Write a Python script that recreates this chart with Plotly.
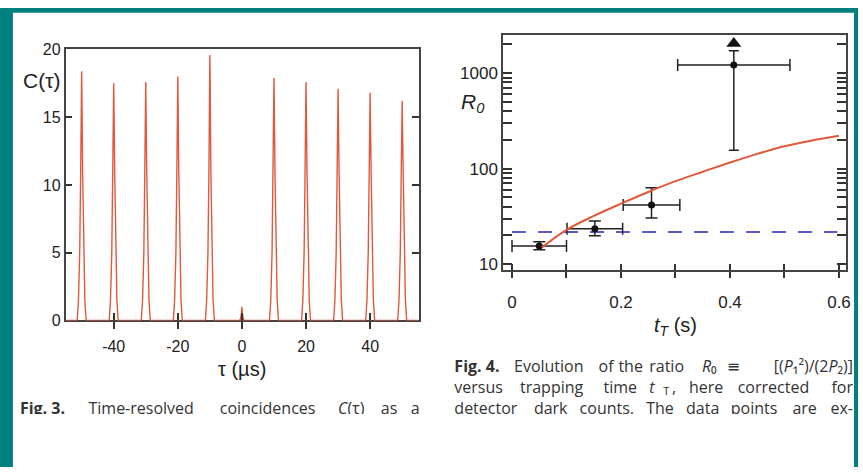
import plotly.graph_objects as go

# ---------------- data: Fig. 3 (coincidences) ----------------
tau = [
    -55.0,
    -51.4, -51.0, -50.6, -50.3, -50.1, -50.0, -49.9, -49.7, -49.4, -49.0, -48.6,
    -41.4, -41.0, -40.6, -40.3, -40.1, -40.0, -39.9, -39.7, -39.4, -39.0, -38.6,
    -31.4, -31.0, -30.6, -30.3, -30.1, -30.0, -29.9, -29.7, -29.4, -29.0, -28.6,
    -21.4, -21.0, -20.6, -20.3, -20.1, -20.0, -19.9, -19.7, -19.4, -19.0, -18.6,
    -11.4, -11.0, -10.6, -10.3, -10.1, -10.0, -9.9, -9.7, -9.4, -9.0, -8.6,
    -0.6, -0.2, 0.0, 0.2, 0.6,
    8.6, 9.0, 9.4, 9.7, 9.9, 10.0, 10.1, 10.3, 10.6, 11.0, 11.4,
    18.6, 19.0, 19.4, 19.7, 19.9, 20.0, 20.1, 20.3, 20.6, 21.0, 21.4,
    28.6, 29.0, 29.4, 29.7, 29.9, 30.0, 30.1, 30.3, 30.6, 31.0, 31.4,
    38.6, 39.0, 39.4, 39.7, 39.9, 40.0, 40.1, 40.3, 40.6, 41.0, 41.4,
    48.6, 49.0, 49.4, 49.7, 49.9, 50.0, 50.1, 50.3, 50.6, 51.0, 51.4,
    55.0,
]
C = [
    0.0,
    0, 1.5, 5, 11, 16.4, 18.4, 16.4, 11, 5, 1.5, 0,
    0, 1.5, 5, 11, 15.5, 17.5, 15.5, 11, 5, 1.5, 0,
    0, 1.5, 5, 11, 15.6, 17.6, 15.6, 11, 5, 1.5, 0,
    0, 1.5, 5, 11, 16.0, 18.0, 16.0, 11, 5, 1.5, 0,
    0, 1.5, 5, 11, 17.6, 19.6, 17.6, 11, 5, 1.5, 0,
    0, 0.4, 1.0, 0.4, 0,
    0, 1.5, 5, 11, 15.9, 17.9, 15.9, 11, 5, 1.5, 0,
    0, 1.5, 5, 11, 15.6, 17.6, 15.6, 11, 5, 1.5, 0,
    0, 1.5, 5, 11, 15.1, 17.1, 15.1, 11, 5, 1.5, 0,
    0, 1.5, 5, 11, 14.8, 16.8, 14.8, 11, 5, 1.5, 0,
    0, 1.5, 5, 11, 14.2, 16.2, 14.2, 11, 5, 1.5, 0,
    0.0,
]
tau_ticks = [-40, -20, 0, 20, 40]
tau_ticktext = ["-40", "-20", "0", "20", "40"]
c_ticks = [0, 5, 10, 15, 20]

# ---------------- data: Fig. 4 (ratio R0) ----------------
t_pts = [0.050, 0.152, 0.256]
r_pts = [15.5, 23.5, 41.7]
t_err = [0.050, 0.051, 0.052]
r_err_plus = [1.7, 4.8, 21.3]
r_err_minus = [1.3, 3.6, 11.2]

t_lim = [0.407]          # lower-limit point
r_lim = [1216]
t_lim_err = [0.103]
r_lim_plus = [500]
r_lim_minus = [1060]
r_arrow = [2050]

t_fit = [0.055, 0.10, 0.15, 0.20, 0.25, 0.30, 0.35, 0.40, 0.45, 0.50, 0.55, 0.60]
r_fit = [15.0, 22.9, 32, 43, 57, 74, 93, 116, 143, 172, 197, 221]

t_dash = [0.0, 0.597]
r_dash = [21.7, 21.7]

t_ticks = [0, 0.1, 0.2, 0.3, 0.4, 0.5, 0.6]
t_ticktext = ["0", "", "0.2", "", "0.4", "", "0.6"]
r_ticks = [10, 20, 30, 40, 50, 60, 70, 80, 90,
           100, 200, 300, 400, 500, 600, 700, 800, 900, 1000, 2000]
r_ticktext = ["10", "", "", "", "", "", "", "", "",
              "100", "", "", "", "", "", "", "", "", "1000", ""]

# ---------------- figure ----------------
W, H = 863, 476
TEAL = "#007f7f"
AX = "#444444"
TXT = "#222222"
RED = "#e2583a"
FONT = "Liberation Sans, Arial, sans-serif"
CAP_FONT = "Open Sans, Noto Sans, DejaVu Sans, sans-serif"
CLIP = 421


def fx(p):
    return p / W


def fy(p):
    return 1 - p / H


fig = go.Figure()

# Fig. 3 trace
fig.add_trace(go.Scatter(x=tau, y=C, mode="lines", xaxis="x", yaxis="y",
                         line=dict(color=RED, width=1.4), cliponaxis=False))

# Fig. 4 traces
fig.add_trace(go.Scatter(x=t_dash, y=r_dash, mode="lines", xaxis="x2", yaxis="y2",
                         line=dict(color="#5a5ad0", width=2, dash="14px,12px")))
fig.add_trace(go.Scatter(x=t_pts, y=r_pts, mode="markers", xaxis="x2", yaxis="y2",
                         marker=dict(color="#111111", size=7),
                         error_x=dict(type="data", array=t_err, color="#222222",
                                      thickness=1.5, width=6),
                         error_y=dict(type="data", symmetric=False, array=r_err_plus,
                                      arrayminus=r_err_minus, color="#222222",
                                      thickness=1.5, width=6)))
fig.add_trace(go.Scatter(x=t_lim, y=r_lim, mode="markers", xaxis="x2", yaxis="y2",
                         marker=dict(color="#111111", size=7),
                         error_x=dict(type="data", array=t_lim_err, color="#222222",
                                      thickness=1.5, width=6),
                         error_y=dict(type="data", symmetric=False, array=r_lim_plus,
                                      arrayminus=r_lim_minus, color="#222222",
                                      thickness=1.5, width=5)))
fig.add_trace(go.Scatter(x=t_lim, y=r_arrow, mode="markers", xaxis="x2", yaxis="y2",
                         marker=dict(color="#111111", size=13, symbol="triangle-up")))
fig.add_trace(go.Scatter(x=t_fit, y=r_fit, mode="lines", xaxis="x2", yaxis="y2",
                         line=dict(color=RED, width=2, shape="spline")))

# invisible traces to anchor the overlay tick axes
fig.add_trace(go.Scatter(x=[tau[0]], y=[0], mode="markers", xaxis="x4", yaxis="y",
                         marker=dict(opacity=0), hoverinfo="skip"))
fig.add_trace(go.Scatter(x=[t_ticks[0]], y=[r_ticks[0]], mode="markers", xaxis="x5", yaxis="y2",
                         marker=dict(opacity=0), hoverinfo="skip"))

# captions (text traces in a page-sized axis so the last line is clipped)
L1, L2, L3 = 373, 395, 417
S, s = 16, 11
cap_words = [
    ("<b>Fig. 3.</b>", 20, L3, "middle right", S),
    ("Time-resolved", 89, L3, "middle right", S),
    ("coincidences", 221, L3, "middle right", S),
    ("<i>C</i>(τ)", 340, L3, "middle right", S),
    ("as", 383, L3, "middle right", S),
    ("a", 422, L3, "middle left", S),
    ("<b>Fig. 4.</b>", 457, L1, "middle right", S),
    ("Evolution", 517, L1, "middle right", S),
    ("of", 602, L1, "middle right", S),
    ("the", 622, L1, "middle right", S),
    ("ratio", 653, L1, "middle right", S),
    ("<i>R</i>₀", 706, L1, "middle right", S),
    ("≡", 731, L1, "middle right", S),
    ("[(<i>P</i>₁²)/(2<i>P</i>₂)]", 858, L1, "middle left", S),
    ("versus", 457, L2, "middle right", S),
    ("trapping", 523, L2, "middle right", S),
    ("time", 607, L2, "middle right", S),
    ("<i>t</i>", 653, L2, "middle right", S),
    ("T", 667, L2 + 3, "middle right", s),
    (",", 676, L2, "middle right", S),
    ("here", 693, L2, "middle right", S),
    ("corrected", 742, L2, "middle right", S),
    ("for", 858, L2, "middle left", S),
    ("detector", 457, L3, "middle right", S),
    ("dark", 537, L3, "middle right", S),
    ("counts.", 583, L3, "middle right", S),
    ("The", 650, L3, "middle right", S),
    ("data", 690, L3, "middle right", S),
    ("points", 735, L3, "middle right", S),
    ("are", 797, L3, "middle right", S),
    ("ex-", 858, L3, "middle left", S),
]
fig.add_trace(go.Scatter(
    x=[w[1] for w in cap_words], y=[w[2] for w in cap_words],
    text=[w[0] for w in cap_words], textposition=[w[3] for w in cap_words],
    mode="text", xaxis="x3", yaxis="y3", cliponaxis=True, hoverinfo="skip",
    textfont=dict(family=CAP_FONT, size=[w[4] for w in cap_words], color="#333333")))

tick_font_l = dict(family=FONT, size=16, color=TXT)
tick_font_r = dict(family=FONT, size=17, color=TXT)

teal_rects = [(0, 13, 0, H), (0, W, 0, 5), (859, W, 0, H)]

fig.update_layout(
    width=W, height=H,
    margin=dict(l=0, r=0, t=0, b=0),
    paper_bgcolor="white",
    plot_bgcolor="rgba(0,0,0,0)",
    showlegend=False,
    shapes=[dict(type="rect", xref="paper", yref="paper",
                 x0=fx(a), x1=fx(b), y0=fy(d), y1=fy(c),
                 fillcolor=TEAL, line=dict(width=0), layer="above")
            for (a, b, c, d) in teal_rects],
    xaxis=dict(domain=[fx(66), fx(421)], range=[-55, 55.1], anchor="y",
               tickvals=tau_ticks, ticktext=tau_ticktext, ticks="outside", ticklen=7,
               tickwidth=1.5, tickcolor="#333333", showline=True, linecolor=AX,
               linewidth=1.5, mirror=True, showgrid=False, zeroline=False,
               tickfont=tick_font_l, ticklabelstandoff=4, layer="below traces"),
    xaxis4=dict(overlaying="x", anchor="y", range=[-55, 55.1], tickvals=tau_ticks,
                ticks="inside", ticklen=7, tickwidth=1.5, tickcolor="#333333",
                showticklabels=False, showline=False, showgrid=False, zeroline=False),
    yaxis=dict(domain=[fy(324), fy(43)], range=[0, 20], anchor="x",
               tickvals=c_ticks, ticks="inside", ticklen=7, tickwidth=1.5,
               tickcolor="#333333", showline=True, linecolor=AX, linewidth=1.5,
               mirror="ticks", showgrid=False, zeroline=False, tickfont=tick_font_l,
               layer="below traces"),
    xaxis2=dict(domain=[fx(506), fx(851)], range=[-0.0164, 0.613], anchor="y2",
                tickvals=t_ticks, ticktext=t_ticktext, ticks="outside", ticklen=6,
                tickwidth=1.5, tickcolor="#333333", showline=True, linecolor=AX,
                linewidth=1.5, mirror=True, showgrid=False, zeroline=False,
                tickfont=tick_font_r, ticklabelstandoff=10),
    xaxis5=dict(overlaying="x2", anchor="y2", range=[-0.0164, 0.613], tickvals=t_ticks,
                ticks="inside", ticklen=6, tickwidth=1.5, tickcolor="#333333",
                showticklabels=False, showline=False, showgrid=False, zeroline=False),
    yaxis2=dict(domain=[fy(272), fy(28)], type="log", range=[0.936, 3.40], anchor="x2",
                tickvals=r_ticks, ticktext=r_ticktext, ticks="inside", ticklen=9,
                tickwidth=1.5, tickcolor="#333333", showline=True, linecolor=AX,
                linewidth=1.5, mirror="ticks", showgrid=False, zeroline=False,
                tickfont=tick_font_r),
    xaxis3=dict(domain=[0, 1], range=[0, W], visible=False, anchor="y3"),
    yaxis3=dict(domain=[fy(CLIP), 1], range=[CLIP, 0], visible=False, anchor="x3"),
    annotations=[
        dict(text="C(τ)", x=fx(42), y=fy(75), xref="paper", yref="paper",
             xanchor="center", yanchor="middle", showarrow=False,
             font=dict(family=FONT, size=21, color=TXT)),
        dict(text="τ (µs)", x=fx(243), y=fy(374), xref="paper", yref="paper",
             xanchor="center", yanchor="middle", showarrow=False,
             font=dict(family=FONT, size=20, color=TXT)),
        dict(text="<i>R</i><sub><i>0</i></sub>", x=fx(476), y=fy(99), xref="paper",
             yref="paper", xanchor="center", yanchor="middle", showarrow=False,
             font=dict(family=FONT, size=21, color=TXT)),
        dict(text="<i>t</i><sub><i>T</i></sub> (s)", x=fx(679), y=fy(330), xref="paper",
             yref="paper", xanchor="center", yanchor="middle", showarrow=False,
             font=dict(family=FONT, size=20, color=TXT)),
    ],
)

fig.write_html("out.html")
